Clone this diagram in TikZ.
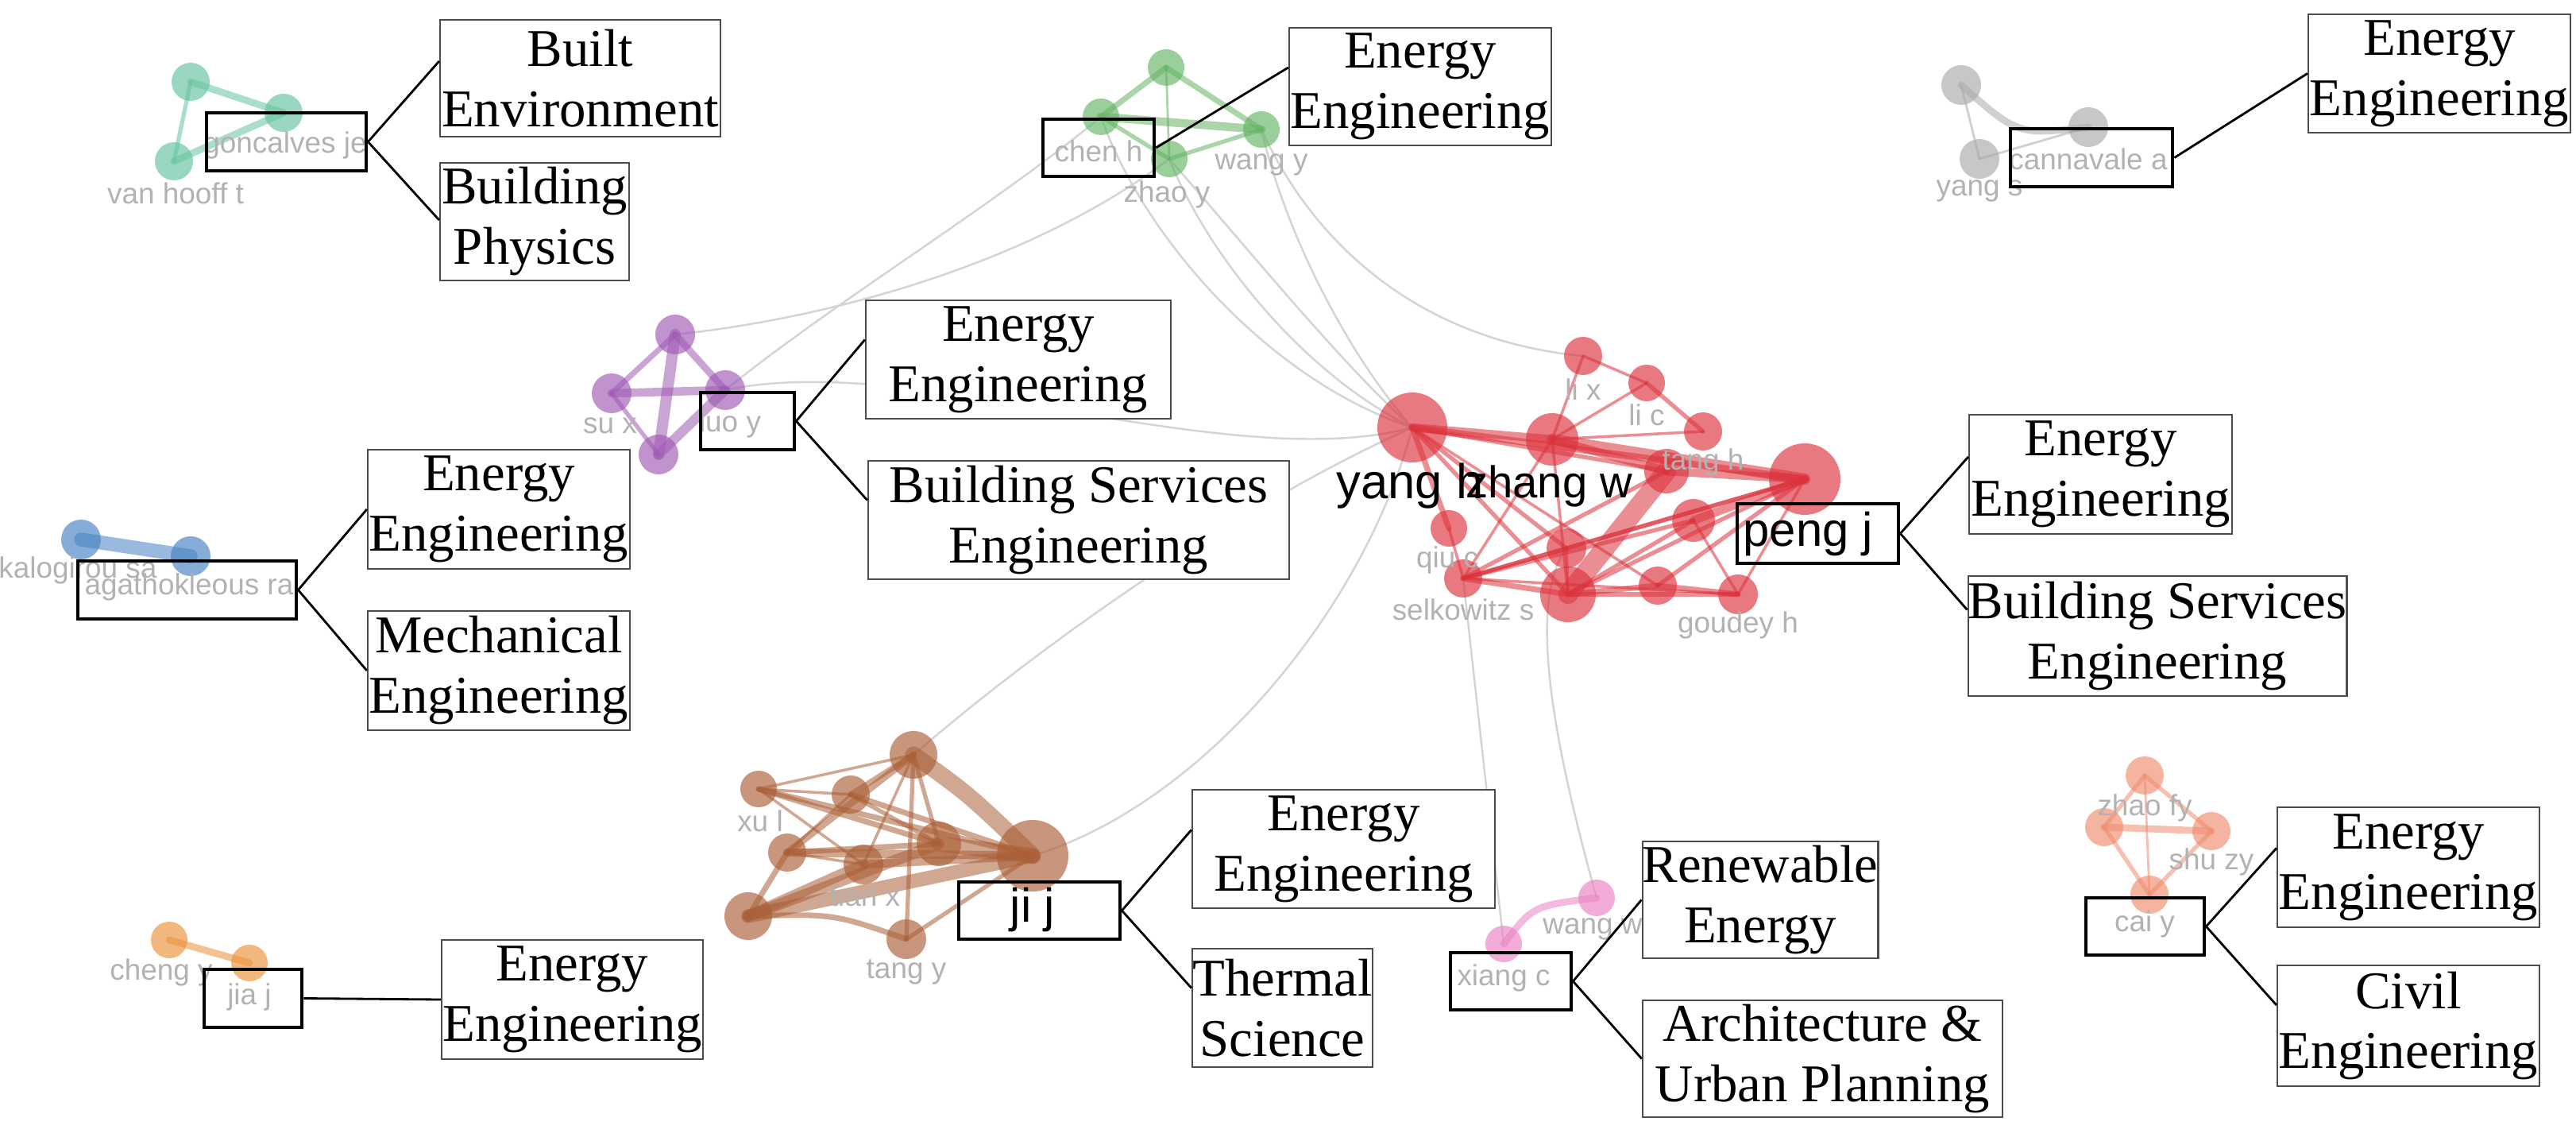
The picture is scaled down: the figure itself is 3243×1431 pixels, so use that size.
\documentclass[tikz,border=0pt]{standalone}
\usepackage{fontspec}
\setmainfont{Liberation Serif}
\newfontfamily\lsans{Liberation Sans}
\definecolor{cTeal}{RGB}{100,195,160}
\definecolor{cGreen}{RGB}{100,180,100}
\definecolor{cGray}{RGB}{170,170,170}
\definecolor{cPurple}{RGB}{160,90,180}
\definecolor{cBlue}{RGB}{70,130,195}
\definecolor{cRed}{RGB}{220,50,60}
\definecolor{cBrown}{RGB}{170,95,55}
\definecolor{cOrange}{RGB}{235,145,55}
\definecolor{cPink}{RGB}{235,130,195}
\definecolor{cSalmon}{RGB}{240,140,110}
\definecolor{xgray}{RGB}{212,212,212}
\definecolor{labgray}{RGB}{178,178,178}
\newcommand\boxfont{\fontsize{19}{21.6}\selectfont}
\newcommand\glab{\lsans\fontsize{10.5}{11}\selectfont}
\newcommand\blab{\lsans\fontsize{17}{18}\selectfont}
\tikzset{
  lbox/.style={draw=black!70, line width=0.6pt, fill=white, align=center, inner sep=0pt, font=\boxfont},
  abox/.style={draw=black, line width=1.3pt, inner sep=0pt},
  gl/.style={font=\glab, text=labgray, inner sep=0pt},
  bl/.style={font=\blab, text=black, inner sep=0pt},
  link/.style={draw=black, line width=0.8pt},
  xl/.style={draw=xgray, line width=0.7pt},
  ed/.style={line cap=round, draw opacity=0.55},
  dot/.style={fill opacity=0.65}
}
\begin{document}
\begin{tikzpicture}[x=0.01cm,y=-0.01cm]
\useasboundingbox (0,0) rectangle (3243,1431);
\fill[white] (0,0) rectangle (3243,1431);
% ---------- graph node centres ----------
\coordinate (t1) at (240,103); \coordinate (t2) at (357,142); \coordinate (t3) at (219,203);
\coordinate (g1) at (1468,85); \coordinate (g2) at (1386,147); \coordinate (g3) at (1588,163); \coordinate (g4) at (1472,200);
\coordinate (c1) at (2469,107); \coordinate (c2) at (2629,160); \coordinate (c3) at (2492,200);
\coordinate (p1) at (850,421); \coordinate (p2) at (770,495); \coordinate (p3) at (913,491); \coordinate (p4) at (829,572);
\coordinate (b1) at (102,679); \coordinate (b2) at (240,700);
\coordinate (o1) at (213,1183); \coordinate (o2) at (314,1212);
\coordinate (k1) at (2010,1130); \coordinate (k2) at (1893,1188);
\coordinate (s1) at (2700,976); \coordinate (s2) at (2649,1041); \coordinate (s3) at (2784,1046); \coordinate (s4) at (2706,1126);
\coordinate (r1) at (955,993); \coordinate (r2) at (1150,950); \coordinate (r3) at (1071,1000);
\coordinate (r4) at (991,1073); \coordinate (r5) at (1087,1088); \coordinate (r6) at (1182,1062);
\coordinate (r7) at (1300,1077); \coordinate (r8) at (942,1153); \coordinate (r9) at (1141,1182);
\coordinate (e1) at (1778,538); \coordinate (e2) at (1993,448); \coordinate (e3) at (2073,482);
\coordinate (e4) at (1954,553); \coordinate (e5) at (2144,543); \coordinate (e6) at (2098,593);
\coordinate (e7) at (2272,603); \coordinate (e8) at (1824,665); \coordinate (e9) at (1972,690);
\coordinate (e10) at (2132,655); \coordinate (e11) at (1842,728); \coordinate (e12) at (1974,748);
\coordinate (e13) at (2087,737); \coordinate (e14) at (2188,748);
% ---------- links between clusters ----------
\draw[xl] (g2) .. controls (1440,300) and (1600,480) .. (e1);
\draw[xl] (g4) .. controls (1520,320) and (1640,470) .. (e1);
\draw[xl] (g4) .. controls (1560,300) and (1690,460) .. (e1);
\draw[xl] (g3) .. controls (1620,300) and (1700,450) .. (e1);
\draw[xl] (g3) .. controls (1660,320) and (1800,430) .. (e2);
\draw[xl] (p1) .. controls (1050,400) and (1300,330) .. (g4);
\draw[xl] (p3) .. controls (1050,380) and (1250,260) .. (g2);
\draw[xl] (p3) .. controls (1150,440) and (1550,600) .. (e1);
\draw[xl] (e1) .. controls (1550,640) and (1300,820) .. (r2);
\draw[xl] (e1) .. controls (1720,760) and (1520,1010) .. (r7);
\draw[xl] (e11) -- (k2);
\draw[xl] (e9) .. controls (1920,760) and (1960,950) .. (k1);
% ---------- cluster edges ----------
\draw[ed, cTeal, line width=2.5pt] (t1) -- (t2);
\draw[ed, cTeal, line width=1.5pt] (t1) -- (t3);
\draw[ed, cTeal, line width=2.5pt] (t3) -- (t2);
\draw[ed, cGreen, line width=2pt] (g1) -- (g2);
\draw[ed, cGreen, line width=2pt] (g1) -- (g3);
\draw[ed, cGreen, line width=0.8pt] (g1) -- (g4);
\draw[ed, cGreen, line width=3pt] (g2) -- (g3);
\draw[ed, cGreen, line width=1.5pt] (g2) -- (g4);
\draw[ed, cGreen, line width=1.5pt] (g4) -- (g3);
\draw[ed, cGray, line width=2.5pt] (c1) .. controls (2540,170) .. (c2);
\draw[ed, cGray, line width=0.8pt] (c1) -- (c3);
\draw[ed, cGray, line width=0.8pt] (c3) -- (c2);
\draw[ed, cPurple, line width=2pt] (p1) -- (p2);
\draw[ed, cPurple, line width=2.5pt] (p1) -- (p3);
\draw[ed, cPurple, line width=4pt] (p1) -- (p4);
\draw[ed, cPurple, line width=3pt] (p2) -- (p3);
\draw[ed, cPurple, line width=1.5pt] (p2) -- (p4);
\draw[ed, cPurple, line width=3.5pt] (p3) -- (p4);
\draw[ed, cBlue, line width=5pt] (b1) -- (b2);
\draw[ed, cOrange, line width=2.5pt] (o1) -- (o2);
\draw[ed, cPink, line width=2.5pt] (k2) .. controls (1930,1140) .. (k1);
\draw[ed, cSalmon, line width=1.5pt] (s1) -- (s2);
\draw[ed, cSalmon, line width=1.5pt] (s1) -- (s3);
\draw[ed, cSalmon, line width=0.8pt] (s1) -- (s4);
\draw[ed, cSalmon, line width=2.5pt] (s2) -- (s3);
\draw[ed, cSalmon, line width=1.5pt] (s2) -- (s4);
\draw[ed, cSalmon, line width=1.5pt] (s3) -- (s4);
% brown
\draw[ed, cBrown, line width=1pt] (r1) -- (r2);
\draw[ed, cBrown, line width=1pt] (r1) -- (r3);
\draw[ed, cBrown, line width=2pt] (r1) -- (r6);
\draw[ed, cBrown, line width=2pt] (r1) -- (r7);
\draw[ed, cBrown, line width=1pt] (r1) -- (r5);
\draw[ed, cBrown, line width=2pt] (r2) -- (r3);
\draw[ed, cBrown, line width=2.5pt] (r2) -- (r4);
\draw[ed, cBrown, line width=1pt] (r2) -- (r5);
\draw[ed, cBrown, line width=1.5pt] (r2) -- (r6);
\draw[ed, cBrown, line width=6pt] (r2) .. controls (1220,1000) .. (r7);
\draw[ed, cBrown, line width=1pt] (r3) -- (r4);
\draw[ed, cBrown, line width=1.5pt] (r3) -- (r6);
\draw[ed, cBrown, line width=2pt] (r3) -- (r7);
\draw[ed, cBrown, line width=2pt] (r4) -- (r8);
\draw[ed, cBrown, line width=1pt] (r4) -- (r5);
\draw[ed, cBrown, line width=2pt] (r4) -- (r6);
\draw[ed, cBrown, line width=3pt] (r4) -- (r7);
\draw[ed, cBrown, line width=3pt] (r5) -- (r7);
\draw[ed, cBrown, line width=4pt] (r5) -- (r8);
\draw[ed, cBrown, line width=5.5pt] (r6) -- (r7);
\draw[ed, cBrown, line width=4pt] (r6) -- (r8);
\draw[ed, cBrown, line width=5pt] (r7) -- (r8);
\draw[ed, cBrown, line width=2pt] (r8) .. controls (1050,1150) .. (r9);
\draw[ed, cBrown, line width=1.5pt] (r9) -- (r7);
\draw[ed, cBrown, line width=1.5pt] (r9) -- (r2);
% red
\draw[ed, cRed, line width=3pt] (e1) -- (e4);
\draw[ed, cRed, line width=2.5pt] (e1) -- (e7);
\draw[ed, cRed, line width=4pt] (e4) -- (e7);
\draw[ed, cRed, line width=3pt] (e4) -- (e6);
\draw[ed, cRed, line width=1.5pt] (e1) -- (e6);
\draw[ed, cRed, line width=2pt] (e1) -- (e8);
\draw[ed, cRed, line width=1.5pt] (e1) -- (e12);
\draw[ed, cRed, line width=1.5pt] (e1) -- (e9);
\draw[ed, cRed, line width=1pt] (e1) -- (e13);
\draw[ed, cRed, line width=1pt] (e2) -- (e4);
\draw[ed, cRed, line width=1pt] (e2) -- (e3);
\draw[ed, cRed, line width=1pt] (e3) -- (e4);
\draw[ed, cRed, line width=1.5pt] (e3) -- (e5);
\draw[ed, cRed, line width=1pt] (e4) -- (e5);
\draw[ed, cRed, line width=1pt] (e4) -- (e12);
\draw[ed, cRed, line width=1pt] (e4) -- (e11);
\draw[ed, cRed, line width=3pt] (e6) -- (e7);
\draw[ed, cRed, line width=7pt] (e6) -- (e12);
\draw[ed, cRed, line width=3pt] (e10) -- (e7);
\draw[ed, cRed, line width=1.5pt] (e11) -- (e7);
\draw[ed, cRed, line width=1.5pt] (e11) -- (e6);
\draw[ed, cRed, line width=1.5pt] (e11) -- (e10);
\draw[ed, cRed, line width=2pt] (e11) -- (e12);
\draw[ed, cRed, line width=1pt] (e11) -- (e14);
\draw[ed, cRed, line width=1.5pt] (e12) -- (e7);
\draw[ed, cRed, line width=1.5pt] (e12) -- (e10);
\draw[ed, cRed, line width=2pt] (e12) -- (e13);
\draw[ed, cRed, line width=2pt] (e13) -- (e14);
\draw[ed, cRed, line width=1.5pt] (e13) -- (e7);
\draw[ed, cRed, line width=1pt] (e14) -- (e7);
\draw[ed, cRed, line width=1pt] (e10) -- (e14);
\draw[ed, cRed, line width=1.5pt] (e9) -- (e7);
\draw[ed, cRed, line width=1pt] (e9) -- (e12);
\draw[ed, cRed, line width=1pt] (e8) -- (e11);
\draw[ed, cRed, line width=1.5pt] (e11) -- (e9);
\draw[ed, cRed, line width=1.5pt] (e12) -- (e14);
% ---------- circles ----------
\fill[dot, cTeal] (t1) circle[radius=24] (t2) circle[radius=24] (t3) circle[radius=24];
\fill[dot, cGreen] (g1) circle[radius=23] (g2) circle[radius=23] (g3) circle[radius=23] (g4) circle[radius=23];
\fill[dot, cGray] (c1) circle[radius=25] (c2) circle[radius=25] (c3) circle[radius=25];
\fill[dot, cPurple] (p1) circle[radius=25] (p2) circle[radius=25] (p3) circle[radius=25] (p4) circle[radius=25];
\fill[dot, cBlue] (b1) circle[radius=25] (b2) circle[radius=25];
\fill[dot, cOrange] (o1) circle[radius=23] (o2) circle[radius=23];
\fill[dot, cPink] (k1) circle[radius=23] (k2) circle[radius=23];
\fill[dot, cSalmon] (s1) circle[radius=24] (s2) circle[radius=24] (s3) circle[radius=24] (s4) circle[radius=24];
\foreach \n/\r in {r1/23,r2/30,r3/24,r4/24,r5/25,r6/28,r7/45,r8/30,r9/25}
  \fill[dot, cBrown] (\n) circle[radius=\r];
\foreach \n/\r in {e1/44,e2/24,e3/23,e4/33,e5/24,e6/28,e7/45,e8/23,e9/25,e10/27,e11/24,e12/35,e13/24,e14/25}
  \fill[dot, cRed] (\n) circle[radius=\r];
% ---------- graph labels ----------
\node[gl] (n-gonc) at (359,183) {goncalves je};
\node[gl] (n-vanh) at (221,243) {van hooff t};
\node[gl] (n-chen) at (1383,190) {chen h};
\node[gl] (n-wangy) at (1588,207) {wang y};
\node[gl] (n-zhaoy) at (1469,245) {zhao y};
\node[gl] (n-cann) at (2629,200) {cannavale a};
\node[gl] (n-yangs) at (2492,240) {yang s};
\node[gl] (n-sux) at (768,536) {su x};
\node[gl] (n-luo) at (919,534) {luo y};
\node[gl] (n-kalo) at (98,718) {kalogirou sa};
\node[gl] (n-agat) at (238,739) {agathokleous ra};
\node[gl] (n-cheng) at (203,1224) {cheng y};
\node[gl] (n-jia) at (314,1255) {jia j};
\node[gl] (n-wangw) at (2005,1169) {wang w};
\node[gl] (n-xiang) at (1893,1231) {xiang c};
\node[gl] (n-zhaofy) at (2700,1017) {zhao fy};
\node[gl] (n-shu) at (2784,1085) {shu zy};
\node[gl] (n-cai) at (2700,1163) {cai y};
\node[gl] (n-xul) at (957,1033) {xu l};
\node[gl] (n-tian) at (1089,1127) {tian x};
\node[gl] (n-tang) at (1141,1223) {tang y};
\node[gl] (n-lix) at (1993,490) {li x};
\node[gl] (n-lic) at (2073,522) {li c};
\node[gl] (n-tangh) at (2144,582) {tang h};
\node[gl] (n-qiu) at (1822,705) {qiu c};
\node[gl] (n-selk) at (1842,767) {selkowitz s};
\node[gl] (n-goud) at (2188,787) {goudey h};
\node[bl, font=\lsans\fontsize{17.5}{18}\selectfont] (n-yangh) at (1775,612) {yang h};
\node[bl, font=\lsans\fontsize{16}{18}\selectfont] (n-zhang) at (1950,612) {zhang w};
\node[bl] (n-peng) at (2276,672) {peng j};
\node[bl] (n-ji) at (1300,1145) {ji j};
% ---------- author boxes ----------
\node[abox, minimum width=2.01cm, minimum height=0.73cm] (A-gonc) at (360.5,178.5) {};
\node[abox, minimum width=1.40cm, minimum height=0.72cm] (A-chen) at (1383,186) {};
\node[abox, minimum width=2.04cm, minimum height=0.73cm] (A-cann) at (2633,198.5) {};
\node[abox, minimum width=1.18cm, minimum height=0.72cm] (A-luo) at (941,530) {};
\node[abox, minimum width=2.75cm, minimum height=0.73cm] (A-agat) at (235.5,742.5) {};
\node[abox, minimum width=2.03cm, minimum height=0.75cm] (A-peng) at (2288.5,671.5) {};
\node[abox, minimum width=2.03cm, minimum height=0.72cm] (A-ji) at (1308.5,1146) {};
\node[abox, minimum width=1.23cm, minimum height=0.73cm] (A-jia) at (318.5,1256.5) {};
\node[abox, minimum width=1.52cm, minimum height=0.72cm] (A-xiang) at (1902,1235) {};
\node[abox, minimum width=1.49cm, minimum height=0.72cm] (A-cai) at (2700.5,1166) {};
% ---------- subject boxes ----------
\node[lbox, minimum width=3.53cm, minimum height=1.47cm] (B-built) at (730.5,98.5) {Built\\Environment};
\node[lbox, minimum width=2.38cm, minimum height=1.48cm] (B-bphys) at (673,279) {Building\\Physics};
\node[lbox, minimum width=3.30cm, minimum height=1.48cm] (B-green) at (1788,109) {Energy\\Engineering};
\node[lbox, minimum width=3.30cm, minimum height=1.49cm] (B-gray) at (3071,92.5) {Energy\\Engineering};
\node[lbox, minimum width=3.84cm, minimum height=1.49cm] (B-pEE) at (1282,452.5) {Energy\\Engineering};
\node[lbox, minimum width=5.30cm, minimum height=1.49cm] (B-pBSE) at (1358,654.5) {Building Services\\Engineering};
\node[lbox, minimum width=3.30cm, minimum height=1.50cm] (B-bEE) at (628,641) {Energy\\Engineering};
\node[lbox, minimum width=3.30cm, minimum height=1.50cm] (B-bME) at (628,844) {Mechanical\\Engineering};
\node[lbox, minimum width=3.31cm, minimum height=1.50cm] (B-rEE) at (2644.5,597) {Energy\\Engineering};
\node[lbox, minimum width=4.74cm, minimum height=1.51cm] (B-rBSE) at (2716,800.5) {Building Services\\Engineering};
\node[lbox, minimum width=3.81cm, minimum height=1.49cm] (B-brEE) at (1691.5,1068.5) {Energy\\Engineering};
\node[lbox, minimum width=2.27cm, minimum height=1.49cm] (B-brTS) at (1614.5,1268.5) {Thermal\\Science};
\node[lbox, minimum width=3.29cm, minimum height=1.50cm] (B-oEE) at (720.5,1258) {Energy\\Engineering};
\node[lbox, minimum width=2.96cm, minimum height=1.47cm] (B-pkRE) at (2216,1132.5) {Renewable\\Energy};
\node[lbox, minimum width=4.53cm, minimum height=1.47cm] (B-pkAU) at (2294.5,1332.5) {Architecture \&\\Urban Planning};
\node[lbox, minimum width=3.30cm, minimum height=1.51cm] (B-sEE) at (3032,1091.5) {Energy\\Engineering};
\node[lbox, minimum width=3.30cm, minimum height=1.52cm] (B-sCE) at (3032,1291) {Civil\\Engineering};
% ---------- connectors ----------
\draw[link] (A-gonc.east) -- ([yshift=0.215cm]B-built.west);
\draw[link] (A-gonc.east) -- ([yshift=0.02cm]B-bphys.west);
\draw[link] (A-chen.east) -- ([yshift=0.24cm]B-green.west);
\draw[link] (A-cann.east) -- (B-gray.west);
\draw[link] (A-luo.east) -- ([yshift=0.25cm]B-pEE.west);
\draw[link] (A-luo.east) -- ([yshift=0.25cm]B-pBSE.west);
\draw[link] (A-agat.east) -- (B-bEE.west);
\draw[link] (A-agat.east) -- (B-bME.west);
\draw[link] (A-peng.east) -- ([yshift=0.22cm]B-rEE.west);
\draw[link] (A-peng.east) -- ([yshift=0.33cm]B-rBSE.west);
\draw[link] (A-ji.east) -- ([yshift=0.24cm]B-brEE.west);
\draw[link] (A-ji.east) -- ([yshift=0.25cm]B-brTS.west);
\draw[link] (A-jia.east) -- (B-oEE.west);
\draw[link] (A-xiang.east) -- (B-pkRE.west);
\draw[link] (A-xiang.east) -- (B-pkAU.west);
\draw[link] (A-cai.east) -- ([yshift=0.24cm]B-sEE.west);
\draw[link] (A-cai.east) -- ([yshift=0.26cm]B-sCE.west);
\end{tikzpicture}
\end{document}
